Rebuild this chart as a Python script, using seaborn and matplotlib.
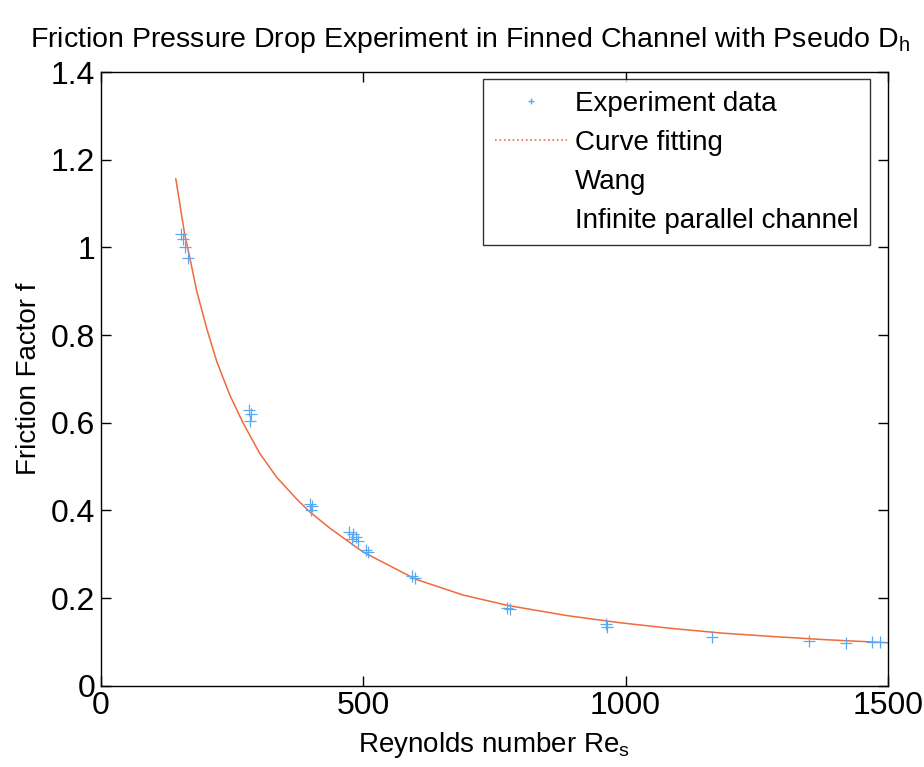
import matplotlib
matplotlib.use("Agg")
import matplotlib.pyplot as plt
import seaborn as sns
import pandas as pd
from matplotlib.lines import Line2D
from matplotlib.ticker import FuncFormatter

# Experiment data (Reynolds number, friction factor)
exp_re = [153, 157, 161, 166, 282, 286, 284, 398, 403, 401,
          474, 480, 486, 478, 490, 505, 510, 594, 598, 775, 780,
          963, 965, 1165, 1350, 1420, 1470, 1485]
exp_f = [1.03, 1.02, 1.00, 0.975, 0.63, 0.62, 0.605, 0.415, 0.41, 0.40,
         0.35, 0.345, 0.34, 0.335, 0.33, 0.31, 0.305, 0.25, 0.245, 0.178, 0.174,
         0.14, 0.135, 0.112, 0.102, 0.097, 0.10, 0.10]

# Curve fitting
fit_re = [143, 160, 170, 183, 202, 221, 246, 271, 303, 335, 374, 398, 436,
          480, 500, 600, 690, 776, 888, 987, 1085, 1184, 1283, 1380, 1500]
fit_f = [1.157, 1.03, 0.975, 0.90, 0.815, 0.74, 0.663, 0.60, 0.53, 0.476,
         0.425, 0.397, 0.36, 0.322, 0.305, 0.243, 0.207, 0.183, 0.16, 0.144,
         0.131, 0.12, 0.112, 0.105, 0.098]

x_ticks = [0, 500, 1000, 1500]
y_ticks = [0, 0.2, 0.4, 0.6, 0.8, 1.0, 1.2, 1.4]
legend_labels = ["Experiment data", "Curve fitting", "Wang", "Infinite parallel channel"]

sns.set_style("white")
plt.rcParams["font.family"] = ["Liberation Sans", "DejaVu Sans"]
plt.rcParams["mathtext.fontset"] = "custom"
plt.rcParams["mathtext.rm"] = "Liberation Sans"
plt.rcParams["text.color"] = "black"
plt.rcParams["axes.labelcolor"] = "black"

exp_df = pd.DataFrame({"Re": exp_re, "f": exp_f})
fit_df = pd.DataFrame({"Re": fit_re, "f": fit_f})

fig = plt.figure(figsize=(9.24, 7.67), dpi=100)
ax = fig.add_axes([0.109, 0.106, 0.852, 0.800])

exp_color = "#5aa8f0"
fit_color = "#f06a3a"

sns.lineplot(data=fit_df, x="Re", y="f", ax=ax, color=fit_color, linewidth=1.1,
             sort=True, estimator=None, legend=False)
sns.scatterplot(data=exp_df, x="Re", y="f", ax=ax, marker="+", s=75,
                color=exp_color, linewidth=0.9, legend=False, zorder=3)

ax.set_xlim(0, 1500)
ax.set_ylim(0, 1.4)
ax.set_xticks(x_ticks)
ax.set_yticks(y_ticks)
ax.yaxis.set_major_formatter(FuncFormatter(lambda v, p: f"{v:g}"))
ax.xaxis.set_major_formatter(FuncFormatter(lambda v, p: f"{v:g}"))
ax.tick_params(direction="in", length=7, width=1, labelsize=23, colors="black",
               top=True, right=True, bottom=True, left=True, pad=4)
for s in ax.spines.values():
    s.set_visible(True)
    s.set_color("black")
    s.set_linewidth(1.0)

ax.set_xlabel("Reynolds number Re$_\\mathregular{s}$", fontsize=20, labelpad=6, color="black")
ax.set_ylabel("Friction Factor f", fontsize=20, labelpad=6, color="black")
fig.text(470 / 924, 1 - 40 / 767,
         "Friction Pressure Drop Experiment in Finned Channel with Pseudo D$_\\mathregular{h}$",
         fontsize=20.5, ha="center", va="center", color="black")

handles = [
    Line2D([], [], color=exp_color, marker="+", linestyle="none", markersize=5),
    Line2D([], [], color=fit_color, linestyle=":", linewidth=1.2),
    Line2D([], [], color="none"),
    Line2D([], [], color="none"),
]
leg = ax.legend(handles, legend_labels, loc="upper right", bbox_to_anchor=(0.977, 0.988),
                fontsize=20, frameon=True, fancybox=False, edgecolor="black",
                handlelength=2.6, handletextpad=0.3, labelspacing=0.47,
                borderpad=0.4, borderaxespad=0)
leg.get_frame().set_linewidth(1.0)
for t in leg.get_texts():
    t.set_color("black")

fig.savefig("out.png", dpi=100, facecolor="white")
